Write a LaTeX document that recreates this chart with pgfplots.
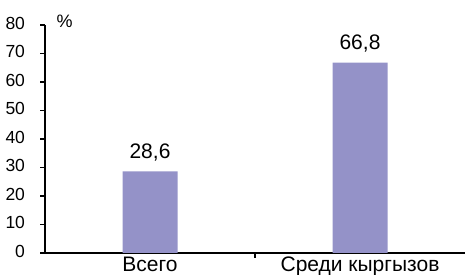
\documentclass[border=0pt]{standalone}
\usepackage{fontspec}
\setmainfont{Liberation Sans}
\usepackage{pgfplots}
\pgfplotsset{compat=1.18}
\definecolor{barc}{RGB}{148,146,200}
\begin{document}
\begin{tikzpicture}
\useasboundingbox (-45pt,-22pt) rectangle (420pt,253pt);
\begin{axis}[
 scale only axis, width=420pt, height=228pt,
 at={(0,0)}, anchor=south west,
 xmin=-0.5, xmax=1.5, ymin=0, ymax=80,
 axis lines=left,
 axis line style={-, line width=2.2pt, black},
 every tick/.style={black, line width=1.4pt},
 ytick={0,10,...,80},
 /pgf/number format/assume math mode=true,
 yticklabel style={font=\fontsize{17.5}{18}\selectfont, xshift=-12pt, yshift=2pt},
 tick align=outside, major tick length=4.5pt,
 xtick={0,1}, xticklabels={Всего, Среди кыргызов},
 xtick style={draw=none},
 xticklabel style={font=\fontsize{21}{22}\selectfont, yshift=4pt},
 ybar, bar width=55pt,
 nodes near coords, point meta=explicit symbolic,
 every node near coord/.append style={font=\fontsize{21}{22}\selectfont, black, yshift=7pt},
 clip=false,
]
\addplot[fill=barc, draw=none] coordinates {(0,28.6) [28,6] (1,66.8) [66,8]};
\draw[black, line width=1.6pt] (axis cs:0.5,0) -- ([yshift=-5.5pt]axis cs:0.5,0);
\node[font=\fontsize{18}{18}\selectfont, anchor=west] at (rel axis cs:0,1) [xshift=8pt,yshift=4pt] {\%};
\end{axis}
\end{tikzpicture}
\end{document}
